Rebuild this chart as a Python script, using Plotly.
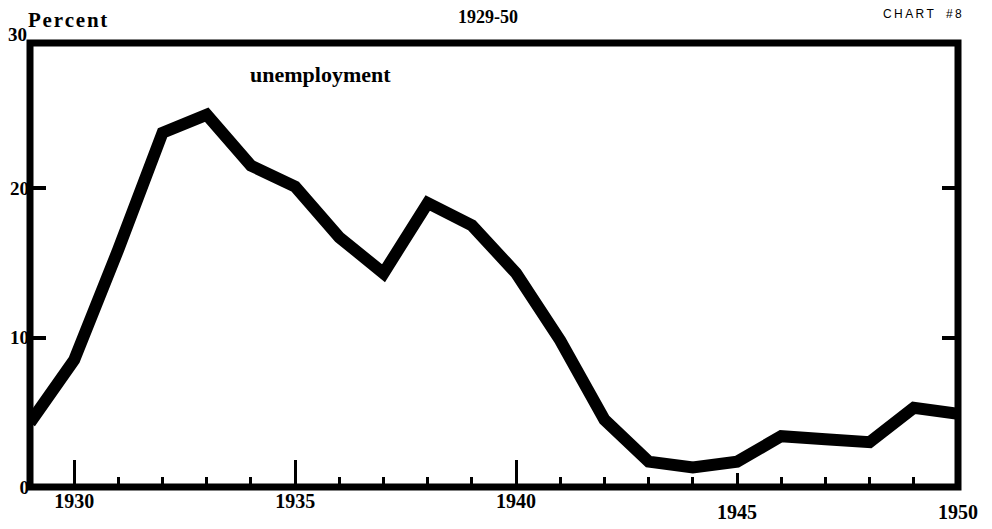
import plotly.graph_objs as go

years = list(range(1929, 1951))
unemployment = [4.3, 8.5, 15.9, 23.7, 24.9, 21.5, 20.1, 16.7, 14.3, 19.0, 17.5,
                14.3, 9.8, 4.5, 1.7, 1.3, 1.7, 3.4, 3.2, 3.0, 5.3, 4.9]

# tick labels, split in two rows as on the original
ticks_upper = [1930, 1935, 1940]
ticks_lower = [1945, 1950]
minor_years = [y for y in range(1930, 1950) if y % 5 != 0]
y_ticks = [0, 10, 20]

serif = "Liberation Serif"


def bold(vals):
    return ['<b>%s</b>' % v for v in vals]


def spaced(s):
    # slight typewriter-like letter spacing
    return '\u200a'.join(s)


trace = go.Scatter(x=years, y=unemployment, mode='lines',
                   line=dict(color='black', width=12), cliponaxis=False,
                   showlegend=False, hoverinfo='skip')

# empty trace that carries the second row of year labels
trace2 = go.Scatter(x=[years[0], years[-1]], y=[None, None], xaxis='x2',
                    showlegend=False, hoverinfo='skip')

# page body adds an 8px margin, so the figure is 8px smaller than the window
layout = go.Layout(
    width=984, height=521,
    margin=dict(l=22, r=34, t=35, b=42, autoexpand=False),
    paper_bgcolor='white', plot_bgcolor='white',
    xaxis=dict(range=[1929, 1950], showgrid=False, zeroline=False, showline=False,
               tickmode='array', tickvals=ticks_upper, ticktext=bold(ticks_upper),
               ticks='inside', ticklen=27, tickwidth=3, tickcolor='black',
               tickfont=dict(family=serif, size=20, color='black'),
               minor=dict(tickmode='array', tickvals=minor_years, ticks='inside',
                          ticklen=10, tickwidth=3, tickcolor='black')),
    xaxis2=dict(range=[1929, 1950], overlaying='x', side='bottom', showgrid=False,
                zeroline=False, showline=False,
                tickmode='array', tickvals=ticks_lower, ticktext=bold(ticks_lower),
                ticks='inside', ticklen=14, tickwidth=3, tickcolor='black',
                ticklabelstandoff=11,
                tickfont=dict(family=serif, size=20, color='black')),
    yaxis=dict(range=[0, 29.7], showgrid=False, zeroline=False, showline=False,
               tickmode='array', tickvals=y_ticks, ticktext=bold(y_ticks),
               ticks='inside', ticklen=16, tickwidth=4, tickcolor='black', mirror='ticks',
               tickfont=dict(family=serif, size=19, color='black')),
    shapes=[dict(type='rect', xref='paper', yref='paper', x0=0, x1=1, y0=0, y1=1,
                 line=dict(color='black', width=7))],
    annotations=[
        dict(text='<b>1929-50</b>', xref='paper', yref='paper', x=0.494, y=1,
             xanchor='center', yanchor='bottom', yshift=14, showarrow=False,
             font=dict(family=serif, size=18, color='black')),
        dict(text='<b>' + spaced('Percent') + '</b>', xref='paper', yref='paper', x=0, y=1,
             xanchor='left', yanchor='middle', xshift=-4, yshift=23, showarrow=False,
             font=dict(family=serif, size=21, color='black')),
        dict(text='<b>30</b>', xref='paper', yref='paper', x=0, y=1,
             xanchor='right', yanchor='middle', xshift=-1, yshift=9, showarrow=False,
             font=dict(family=serif, size=19, color='black')),
        dict(text='C\u2009H\u2009A\u2009R\u2009T\u2003#\u20098', xref='paper', yref='paper',
             x=1, y=1, xanchor='right', yanchor='middle', xshift=6, yshift=29,
             showarrow=False, font=dict(family='Liberation Sans', size=12, color='black')),
        dict(text='<b>unemployment</b>', xref='x', yref='y', x=1934, y=27.6,
             xanchor='left', yanchor='middle', xshift=-3, showarrow=False,
             font=dict(family=serif, size=22, color='black')),
    ],
)

fig = go.Figure(data=[trace, trace2], layout=layout)
fig.write_html("out.html")
